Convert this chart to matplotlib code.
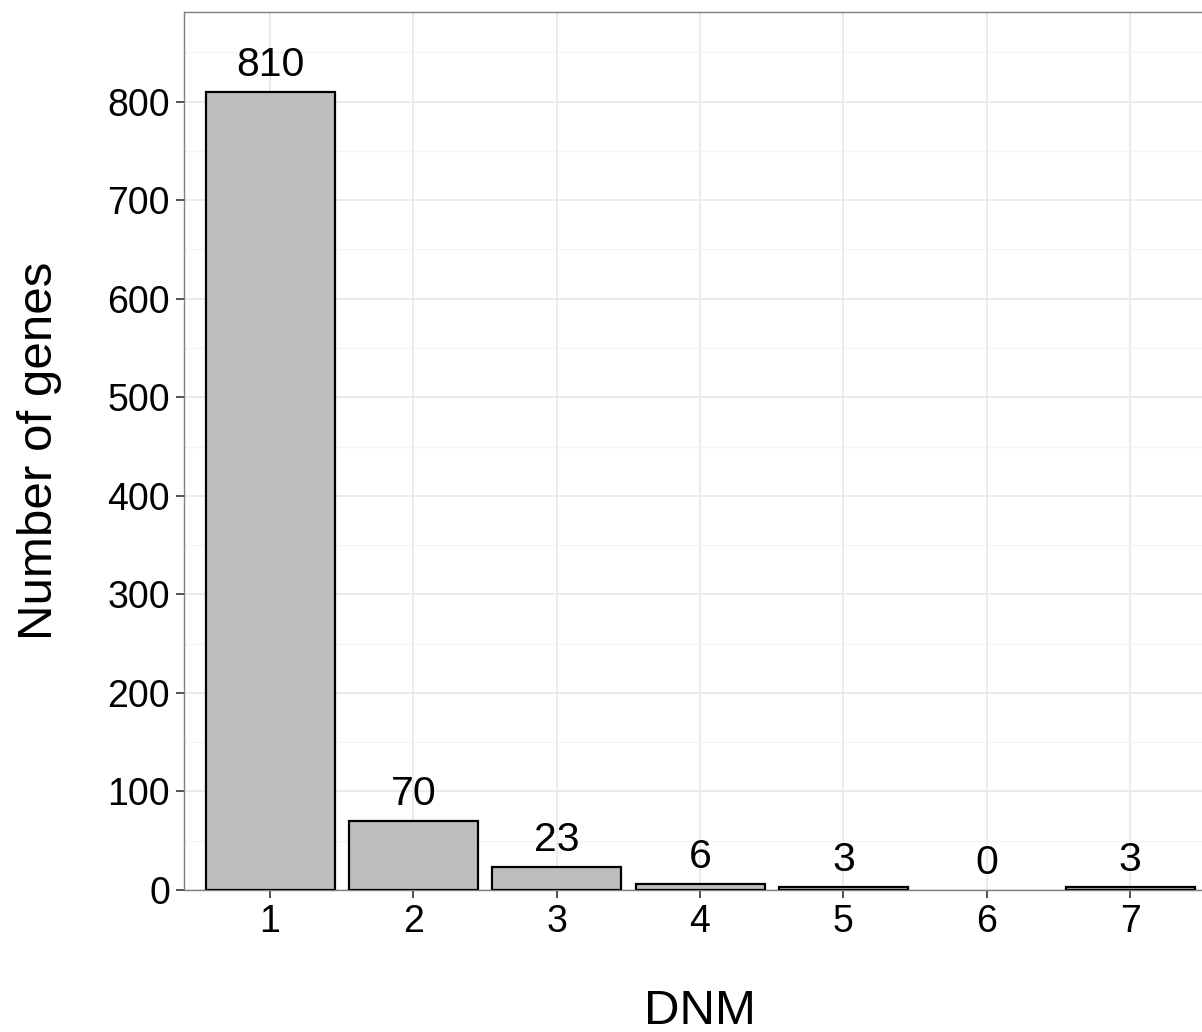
import matplotlib
matplotlib.use("Agg")
import matplotlib.pyplot as plt
from matplotlib.ticker import MultipleLocator

plt.rcParams['font.family'] = ['Liberation Sans', 'DejaVu Sans']

categories = [1, 2, 3, 4, 5, 6, 7]
counts = [810, 70, 23, 6, 3, 0, 3]
y_ticks = [0, 100, 200, 300, 400, 500, 600, 700, 800]
x_label = "DNM"
y_label = "Number of genes"

fig = plt.figure(figsize=(12.02, 10.32), dpi=100)
ax = fig.add_axes([184/1202, 142/1032, (1216-184)/1202, 878/1032])

# bars (skip zero-height bars, as in the reference)
xs = [c for c, v in zip(categories, counts) if v > 0]
hs = [v for v in counts if v > 0]
ax.bar(xs, hs, width=0.9, color='#BEBEBE', edgecolor='black', linewidth=1.6, zorder=3)

for c, v in zip(categories, counts):
    ax.annotate(str(v), xy=(c, v), xytext=(0, 11.5), textcoords='offset points',
                ha='center', va='baseline', fontsize=29.5, color='black', zorder=4)

ax.set_xlim(0.4, 7.6)
ax.set_ylim(0, 891)
ax.set_xticks(categories)
ax.set_xticklabels([str(c) for c in categories])
ax.set_yticks(y_ticks)
ax.yaxis.set_minor_locator(MultipleLocator(50))
ax.xaxis.set_minor_locator(plt.NullLocator())

ax.grid(which='major', color='#EBEBEB', linewidth=1.4, zorder=0)
ax.grid(which='minor', axis='y', color='#F3F3F3', linewidth=0.9, zorder=0)
ax.set_axisbelow(True)

for s in ax.spines.values():
    s.set_color('#7F7F7F')
    s.set_linewidth(1.0)

ax.tick_params(axis='both', which='major', length=6, width=1.2, color='#333333',
               labelsize=27, labelcolor='black', pad=4)
ax.tick_params(axis='y', which='minor', length=0)

ax.set_xlabel(x_label, fontsize=35.5, labelpad=35)
ax.set_ylabel(y_label, fontsize=35.5, labelpad=33)

fig.savefig("out.png", dpi=100)
